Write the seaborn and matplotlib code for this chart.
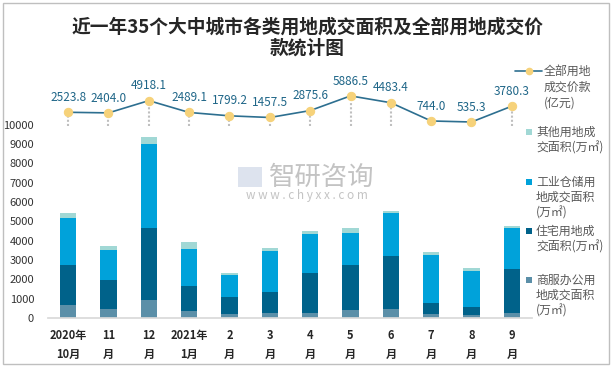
import numpy as np
import pandas as pd
import matplotlib
matplotlib.use("Agg")
import matplotlib.pyplot as plt
from matplotlib.patches import Rectangle
from matplotlib.lines import Line2D
import seaborn as sns

# ---------------- data ----------------
months = ["2020年\n10月", "11\n月", "12\n月", "2021年\n1月", "2\n月", "3\n月",
          "4\n月", "5\n月", "6\n月", "7\n月", "8\n月", "9\n月"]
commercial = [650, 480, 950, 380, 220, 280, 280, 430, 480, 220, 170, 280]
residential = [2110, 1500, 3720, 1290, 880, 1080, 2060, 2330, 2740, 570, 410, 2270]
industrial = [2430, 1550, 4330, 1910, 1140, 2120, 2020, 1650, 2220, 2480, 1860, 2120]
other = [260, 210, 380, 360, 100, 160, 160, 260, 100, 160, 150, 100]
price = [2523.8, 2404.0, 4918.1, 2489.1, 1799.2, 1457.5, 2875.6, 5886.5, 4483.4, 744.0, 535.3, 3780.3]
yticks = list(range(0, 10001, 1000))

series_names = ["商服办公用地成交面积(万㎡)", "住宅用地成交面积(万㎡)",
                "工业仓储用地成交面积(万㎡)", "其他用地成交面积(万㎡)"]
colors = ["#5B8FA8", "#00628A", "#00A2DA", "#A1D8D5"]
line_color = "#2D6F90"
marker_color = "#F6D27A"
label_color = "#1F6688"

# ---------------- style ----------------
sns.set_theme(style="white")
plt.rcParams["font.family"] = ["Noto Sans CJK SC", "DejaVu Sans"]

W, H = 614, 368
fig = plt.figure(figsize=(W / 100, H / 100), dpi=100)


def fx(x):
    return x / W


def fy(y):
    return 1 - y / H


# plot area in pixels
L, R, T, B = 48, 532, 60, 318
ax = fig.add_axes([fx(L), fy(B), fx(R - L), (B - T) / H])

df = pd.DataFrame({"month": months, "c": commercial, "r": residential,
                   "i": industrial, "o": other})
df["cum_c"] = df["c"]
df["cum_r"] = df["cum_c"] + df["r"]
df["cum_i"] = df["cum_r"] + df["i"]
df["cum_o"] = df["cum_i"] + df["o"]

for col, colr in zip(["cum_o", "cum_i", "cum_r", "cum_c"], colors[::-1]):
    sns.barplot(data=df, x="month", y=col, order=months, color=colr,
                saturation=1, width=0.4, linewidth=0, ax=ax)

ax.set_xlim(-0.5, len(months) - 0.5)
ax.set_ylim(0, 13347)
ax.set_yticks(yticks)
ax.set_yticklabels([str(v) for v in yticks], fontsize=8, color="#333333")
ax.set_xticks(np.arange(len(months)))
ax.set_xticklabels(months, fontsize=8, fontweight="bold", color="#262626",
                   linespacing=1.55)
ax.set_xticks(np.arange(-0.5, len(months), 1), minor=True)
ax.tick_params(axis="x", which="major", length=0, pad=8)
ax.tick_params(axis="x", which="minor", length=4, color="#D9D9D9", width=1)
ax.tick_params(axis="y", length=0, pad=10)
ax.set_xlabel("")
ax.set_ylabel("")
for s in ["top", "right", "left"]:
    ax.spines[s].set_visible(False)
ax.spines["bottom"].set_color("#D9D9D9")
ax.grid(False)
ax.set_facecolor("none")

# ---------------- line on secondary scale ----------------
ax2 = ax.twinx()
xpos = np.arange(len(months))
ax2.vlines(xpos, -300, price, colors="#BFBFBF", linestyles=(0, (1, 1)),
           linewidth=1.5, zorder=1)
sns.lineplot(x=xpos, y=price, ax=ax2, color=line_color, linewidth=1.2,
             marker="o", markersize=6, markerfacecolor=marker_color,
             markeredgecolor=marker_color, zorder=3)
ax2.set_ylim(-39630, 13240)
for xi, v in zip(xpos, price):
    ax2.annotate(f"{v:.1f}", (xi, v), xytext=(0, 6), textcoords="offset points",
                 ha="center", va="bottom", fontsize=8.5, color=label_color,
                 family=["Noto Sans CJK SC", "DejaVu Sans"])
ax2.set_yticks([])
ax2.set_ylabel("")
for s in ax2.spines.values():
    s.set_visible(False)
ax2.grid(False)

# ---------------- title ----------------
tkw = dict(ha="center", va="center", fontsize=13.5, fontweight="bold",
           color="#262626")
fig.text(fx(307.5), fy(27), "近一年35个大中城市各类用地成交面积及全部用地成交价", **tkw)
fig.text(fx(307.5), fy(48), "款统计图", **tkw)

# ---------------- legend (manual) ----------------
lkw = dict(ha="left", va="center", fontsize=8.6, color="#595959")
fig.add_artist(Line2D([fx(515), fx(542)], [fy(71), fy(71)], color=line_color,
                      lw=1.2, transform=fig.transFigure))
fig.add_artist(Line2D([fx(529)], [fy(71)], marker="o", markersize=4.5,
                      color=marker_color, transform=fig.transFigure))
for i, t in enumerate(["全部用地", "成交价款", "(亿元)"]):
    fig.text(fx(544), fy(71 + 16 * i), t, **lkw)

legend_rows = [
    (colors[3], 132, ["其他用地成", "交面积(万㎡)"]),
    (colors[2], 182, ["工业仓储用", "地成交面积", "(万㎡)"]),
    (colors[1], 231, ["住宅用地成", "交面积(万㎡)"]),
    (colors[0], 280, ["商服办公用", "地成交面积", "(万㎡)"]),
]
for colr, y0, lines in legend_rows:
    fig.add_artist(Rectangle((fx(526), fy(y0 + 3)), fx(6), 6 / H, color=colr,
                             transform=fig.transFigure, lw=0))
    for i, t in enumerate(lines):
        fig.text(fx(536), fy(y0 + 15.5 * i), t, **lkw)

# ---------------- watermark ----------------
fig.text(fx(322), fy(177), "智研咨询", ha="center", va="center", fontsize=19,
         color="#BDBDBD", alpha=0.9)
fig.text(fx(307), fy(196), "w w w . c h y x x . c o m", ha="center", va="center",
         fontsize=8.5, color="#BDBDBD", alpha=0.9)
fig.add_artist(Rectangle((fx(238), fy(187)), fx(24), 20 / H, facecolor="#D5DDEA",
                         edgecolor="none", transform=fig.transFigure, alpha=0.8))

# ---------------- outer border ----------------
fig.add_artist(Rectangle((fx(3), fy(364)), fx(606), 361 / H, fill=False,
                         edgecolor="#BFBFBF", lw=1, transform=fig.transFigure))

fig.savefig("out.png", dpi=100)
